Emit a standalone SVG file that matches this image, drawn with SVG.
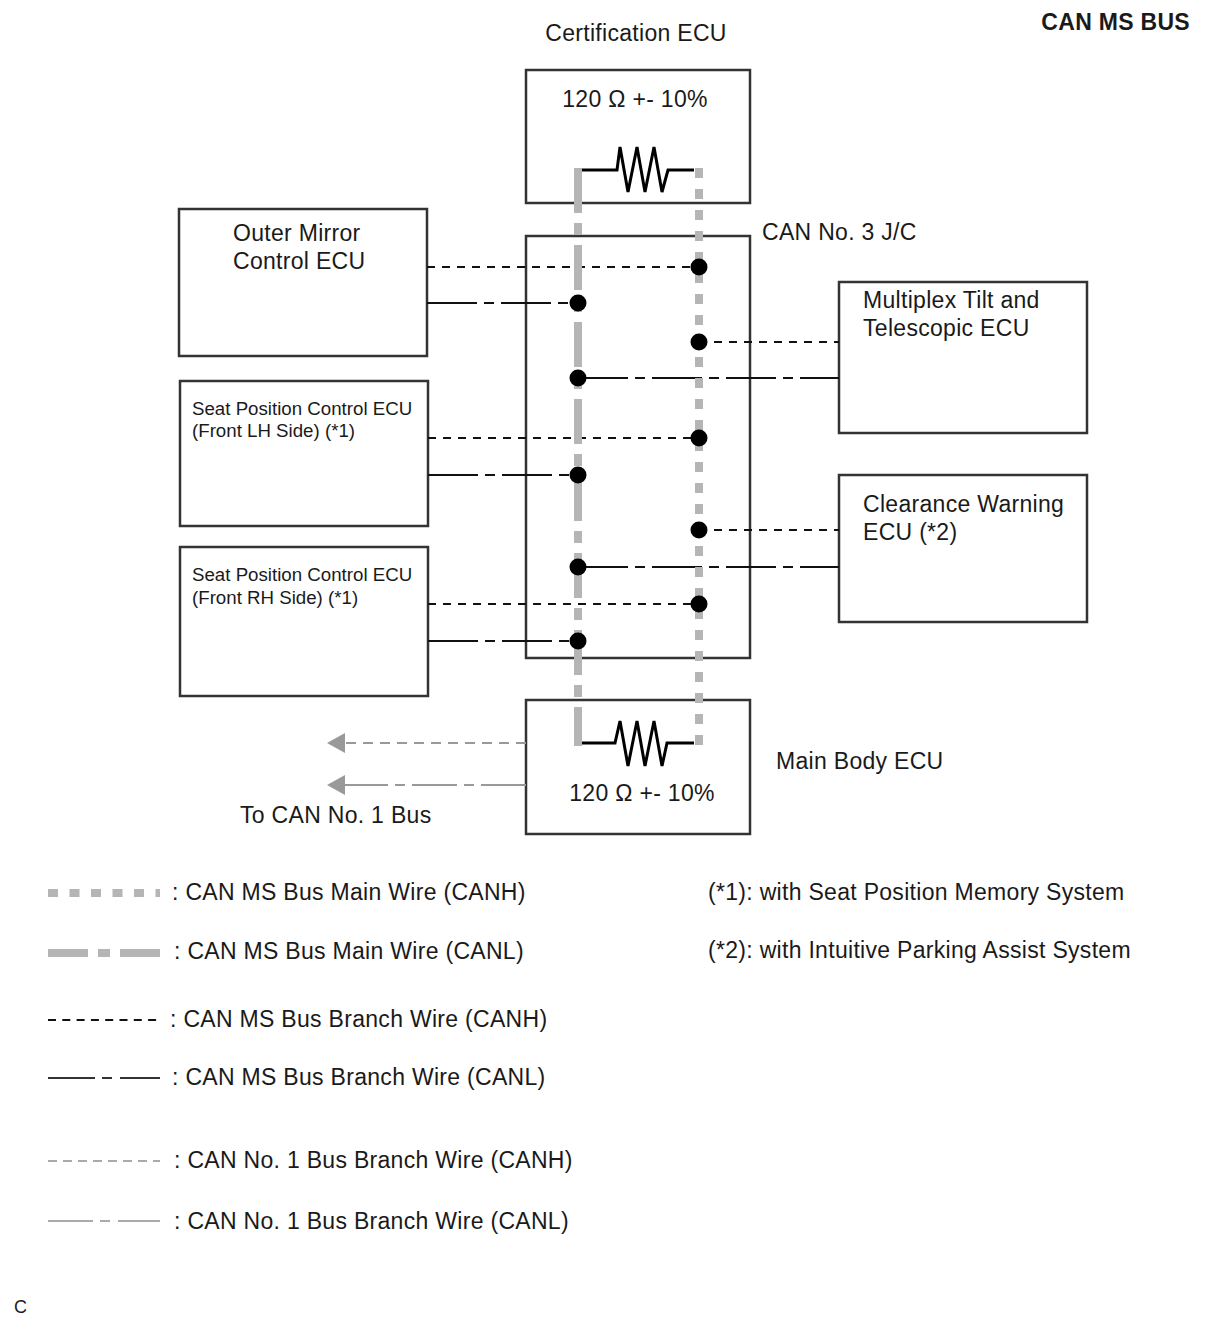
<svg xmlns="http://www.w3.org/2000/svg" width="1210" height="1328" viewBox="0 0 1210 1328">
<style>
text{font-family:"Liberation Sans",Arial,sans-serif;fill:#1a1a1a;font-size:23px;letter-spacing:0.3px}
.sm{font-size:18.7px;letter-spacing:0}
.b{font-weight:bold}
.box{fill:#fff;stroke:#333;stroke-width:2.5}
.res{fill:none;stroke:#000;stroke-width:3;stroke-linejoin:miter}
.bh{stroke:#111;stroke-width:2;fill:none;stroke-dasharray:8 7}
.bl{stroke:#111;stroke-width:2;fill:none;stroke-dasharray:50 7 10 7}
.mh{stroke:#b5b5b5;stroke-width:8;fill:none;stroke-dasharray:10 11}
.ml{stroke:#b5b5b5;stroke-width:8;fill:none;stroke-dasharray:45 10 12 10}
.gh{stroke:#999;stroke-width:2;fill:none;stroke-dasharray:10 7}
.gl{stroke:#999;stroke-width:2;fill:none;stroke-dasharray:45 7 10 7}
.lgh{stroke:#aaa;stroke-width:2;fill:none;stroke-dasharray:9 6}
.lgl{stroke:#aaa;stroke-width:2;fill:none;stroke-dasharray:45 7 10 8}
.dot{fill:#000}
.ah{fill:#999}
</style>
<rect width="1210" height="1328" fill="#fff"/>

<text class="b" x="1190" y="30" text-anchor="end">CAN MS BUS</text>

<g id="certification-ecu">
<text x="636" y="41" text-anchor="middle">Certification ECU</text>
<rect class="box" x="526" y="70" width="224" height="133"/>
<text x="635" y="107" text-anchor="middle">120 Ω +- 10%</text>
<path class="res" d="M582,170 H617 L620,147 L628,192 L637,147 L645,192 L654,147 L662,192 L668,170 H694"/>
</g>

<g id="can-no3-jc">
<rect class="box" x="526" y="236" width="224" height="422"/>
<text x="762" y="240">CAN No. 3 J/C</text>
</g>

<g id="outer-mirror-ecu">
<rect class="box" x="179" y="209" width="248" height="147"/>
<text x="233" y="241">Outer Mirror</text>
<text x="233" y="269">Control ECU</text>
</g>

<g id="seat-lh-ecu">
<rect class="box" x="180" y="381" width="248" height="145"/>
<text class="sm" x="192" y="415">Seat Position Control ECU</text>
<text class="sm" x="192" y="437">(Front LH Side) (*1)</text>
</g>

<g id="seat-rh-ecu">
<rect class="box" x="180" y="547" width="248" height="149"/>
<text class="sm" x="192" y="581">Seat Position Control ECU</text>
<text class="sm" x="192" y="604">(Front RH Side) (*1)</text>
</g>

<g id="multiplex-tilt-ecu">
<rect class="box" x="839" y="282" width="248" height="151"/>
<text x="863" y="308">Multiplex Tilt and</text>
<text x="863" y="336">Telescopic ECU</text>
</g>

<g id="clearance-warning-ecu">
<rect class="box" x="839" y="475" width="248" height="147"/>
<text x="863" y="512">Clearance Warning</text>
<text x="863" y="540">ECU (*2)</text>
</g>

<g id="main-body-ecu">
<rect class="box" x="526" y="700" width="224" height="134"/>
<text x="776" y="769">Main Body ECU</text>
<text x="642" y="801" text-anchor="middle">120 Ω +- 10%</text>
<path class="res" d="M582,743 H615 L620,721 L628,766 L637,721 L645,766 L654,721 L662,766 L667,743 H694"/>
</g>

<g id="connectors">
<line class="bh" x1="427" y1="267" x2="699" y2="267"/>
<line class="bh" x1="699" y1="342" x2="839" y2="342"/>
<line class="bh" x1="428" y1="438" x2="699" y2="438"/>
<line class="bh" x1="699" y1="530" x2="839" y2="530"/>
<line class="bh" x1="428" y1="604" x2="699" y2="604"/>
<line class="bl" x1="427" y1="303" x2="578" y2="303"/>
<line class="bl" x1="578" y1="378" x2="839" y2="378"/>
<line class="bl" x1="428" y1="475" x2="578" y2="475"/>
<line class="bl" x1="578" y1="567" x2="839" y2="567"/>
<line class="bl" x1="428" y1="641" x2="578" y2="641"/>
<line class="ml" x1="578" y1="168" x2="578" y2="746"/>
<line class="mh" x1="699" y1="168" x2="699" y2="746"/>
<line class="gh" x1="526" y1="743" x2="344" y2="743"/>
<polygon class="ah" points="327,743 345,733 345,753"/>
<line class="gl" x1="526" y1="785" x2="344" y2="785"/>
<polygon class="ah" points="327,785 345,775 345,795"/>
<circle class="dot" cx="699" cy="267" r="8.5"/>
<circle class="dot" cx="699" cy="342" r="8.5"/>
<circle class="dot" cx="699" cy="438" r="8.5"/>
<circle class="dot" cx="699" cy="530" r="8.5"/>
<circle class="dot" cx="699" cy="604" r="8.5"/>
<circle class="dot" cx="578" cy="303" r="8.5"/>
<circle class="dot" cx="578" cy="378" r="8.5"/>
<circle class="dot" cx="578" cy="475" r="8.5"/>
<circle class="dot" cx="578" cy="567" r="8.5"/>
<circle class="dot" cx="578" cy="641" r="8.5"/>
</g>
<text x="240" y="823">To CAN No. 1 Bus</text>

<g id="legend">
<line class="mh" x1="48" y1="893" x2="160" y2="893" style="stroke-dasharray:10 11.5"/>
<text x="172" y="900">: CAN MS Bus Main Wire (CANH)</text>
<line class="ml" x1="48" y1="953" x2="160" y2="953" style="stroke-dasharray:40 10 12 10"/>
<text x="174" y="959">: CAN MS Bus Main Wire (CANL)</text>
<line class="bh" x1="48" y1="1020" x2="158" y2="1020" style="stroke-dasharray:8 6.3"/>
<text x="170" y="1027">: CAN MS Bus Branch Wire (CANH)</text>
<line class="bl" x1="48" y1="1078" x2="160" y2="1078" style="stroke-dasharray:47 7 10 8;stroke:#333"/>
<text x="172" y="1085">: CAN MS Bus Branch Wire (CANL)</text>
<line class="lgh" x1="48" y1="1161" x2="160" y2="1161"/>
<text x="174" y="1168">: CAN No. 1 Bus Branch Wire (CANH)</text>
<line class="lgl" x1="48" y1="1221" x2="160" y2="1221"/>
<text x="174" y="1229">: CAN No. 1 Bus Branch Wire (CANL)</text>
<text x="708" y="900">(*1): with Seat Position Memory System</text>
<text x="708" y="958">(*2): with Intuitive Parking Assist System</text>
</g>

<text x="14" y="1313" style="font-size:18px">C</text>
</svg>
